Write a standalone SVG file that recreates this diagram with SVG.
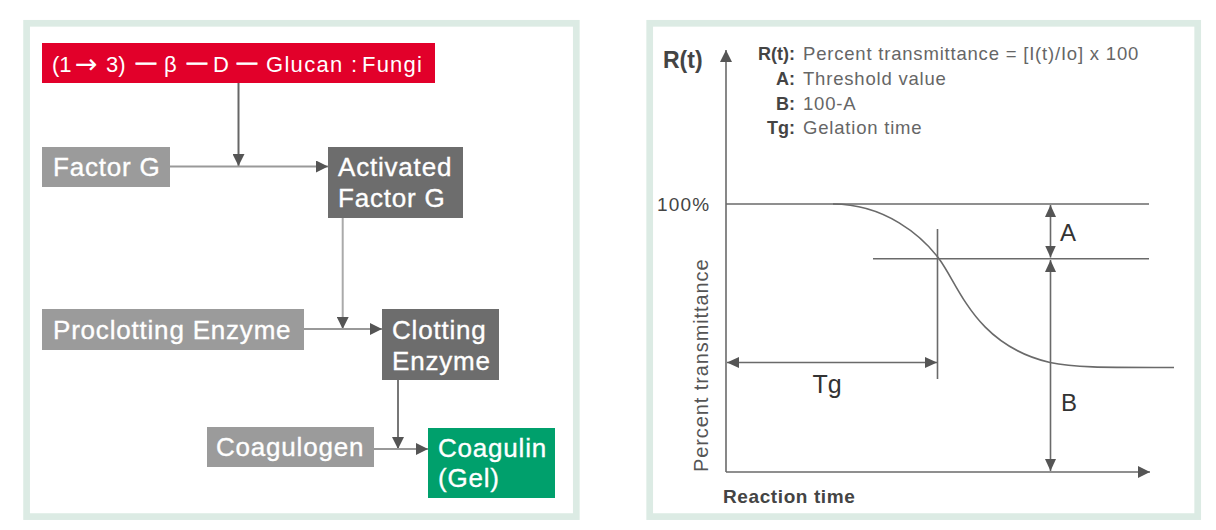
<svg xmlns="http://www.w3.org/2000/svg" width="1216" height="530" viewBox="0 0 1216 530">
<style>
  .panel{fill:#fff;stroke:#dcebe4;stroke-width:6.7}
  .lbl{font-family:"Liberation Sans",Arial,sans-serif;font-size:26px;letter-spacing:0.8px;fill:#fff;stroke:#fff;stroke-width:0.35px}
  .rt{font-family:"Liberation Sans",Arial,sans-serif;font-size:22px;fill:#fff}
  .arr{font-family:"DejaVu Sans",sans-serif;font-size:27px}
  .dash{font-size:20px;stroke:#fff;stroke-width:0.9px}
  .red{fill:#e2002a}
  .lg{fill:#9b9b9b}
  .dg{fill:#6d6d6d}
  .gr{fill:#00a06c}
  .conn{fill:none;stroke-width:2}
  .ch{fill:none;stroke:#6a6a6a;stroke-width:1.6}
  .t{font-family:"Liberation Sans",Arial,sans-serif;fill:#444}
  .lk{font-family:"Liberation Sans",Arial,sans-serif;font-size:18px;font-weight:bold;fill:#444;text-anchor:end}
  .lv{font-family:"Liberation Sans",Arial,sans-serif;font-size:18.5px;letter-spacing:0.8px;fill:#666}
</style>
<defs>
  <marker id="ah" viewBox="0 0 12 12" refX="12" refY="6" markerWidth="12" markerHeight="12" markerUnits="userSpaceOnUse" orient="auto-start-reverse"><path d="M0,0 L12,6 L0,12 z" fill="#555"/></marker>
  <marker id="ah2" viewBox="0 0 12 11" refX="12" refY="5.5" markerWidth="12" markerHeight="11" markerUnits="userSpaceOnUse" orient="auto-start-reverse"><path d="M0,0 L12,5.5 L0,11 z" fill="#555"/></marker>
</defs>
<rect width="1216" height="530" fill="#fff"/>
<rect class="panel" x="26.6" y="23.3" width="549.7" height="493.3"/>
<rect class="panel" x="649.7" y="23.3" width="548" height="493.3"/>

<g id="connectors">
  <path class="conn" stroke="#666" d="M238.5,83 V166" marker-end="url(#ah)"/>
  <path class="conn" stroke="#999" d="M170,166.5 H328" marker-end="url(#ah)"/>
  <path class="conn" stroke="#aaa" d="M342.7,218 V329" marker-end="url(#ah)"/>
  <path class="conn" stroke="#999" d="M304,329 H382" marker-end="url(#ah)"/>
  <path class="conn" stroke="#777" d="M398,380 V449" marker-end="url(#ah)"/>
  <path class="conn" stroke="#999" d="M374,449 H428" marker-end="url(#ah)"/>
</g>

<g id="glucan">
  <rect class="red" x="42" y="43" width="393" height="40"/>
  <text class="rt" y="72"><tspan x="52">(1</tspan><tspan class="arr" x="75" y="73">→</tspan><tspan x="106" y="72">3)</tspan><tspan class="dash" x="136" y="69">—</tspan><tspan x="164" y="72">β</tspan><tspan class="dash" x="187" y="69">—</tspan><tspan x="213" y="72">D</tspan><tspan class="dash" x="237" y="69">—</tspan><tspan x="266" y="72" style="letter-spacing:1.3px">Glucan</tspan><tspan x="351">:</tspan><tspan x="362" style="letter-spacing:1.2px">Fungi</tspan></text>
</g>
<g id="factorG">
  <rect class="lg" x="42" y="147" width="128" height="40"/>
  <text class="lbl" x="53" y="176">Factor G</text>
</g>
<g id="activatedFactorG">
  <rect class="dg" x="328" y="147" width="135" height="71"/>
  <text class="lbl" x="338" y="176">Activated</text>
  <text class="lbl" x="338" y="207">Factor G</text>
</g>
<g id="proclotting">
  <rect class="lg" x="42" y="309" width="262" height="41"/>
  <text class="lbl" x="53" y="338.5">Proclotting Enzyme</text>
</g>
<g id="clotting">
  <rect class="dg" x="382" y="309" width="117" height="71"/>
  <text class="lbl" x="392" y="339">Clotting</text>
  <text class="lbl" x="392" y="370">Enzyme</text>
</g>
<g id="coagulogen">
  <rect class="lg" x="207" y="427" width="167" height="40"/>
  <text class="lbl" x="216" y="456">Coagulogen</text>
</g>
<g id="coagulin">
  <rect class="gr" x="428" y="428" width="127" height="70"/>
  <text class="lbl" x="438" y="457">Coagulin</text>
  <text class="lbl" x="438" y="487">(Gel)</text>
</g>

<g id="chart">
  <path class="ch" d="M726,472 V50" marker-end="url(#ah)"/>
  <path class="ch" d="M726,472 H1150" marker-end="url(#ah)"/>
  <path class="ch" d="M726,204 H1149"/>
  <path class="ch" stroke="#7a7a7a" stroke-width="2" d="M873,258.7 H1149"/>
  <path class="ch" d="M937.5,229 V379"/>
  <path class="ch" d="M833,204 C885,204 922,236 939,258.7 C959.4,286 975,345 1050,362.5 C1075,368 1110,367.5 1174,367.5"/>
  <path class="ch" d="M727,362.5 H937" marker-start="url(#ah2)" marker-end="url(#ah2)"/>
  <path class="ch" d="M1050.5,205 V257.5" marker-start="url(#ah2)" marker-end="url(#ah2)"/>
  <path class="ch" d="M1050.5,260 V471" marker-start="url(#ah2)" marker-end="url(#ah2)"/>

  <text class="t" x="663" y="68" style="font-size:23px;font-weight:bold">R(t)</text>
  <text class="lk" x="795" y="60">R(t):</text>
  <text class="lv" x="803" y="60">Percent transmittance = [I(t)/Io] x 100</text>
  <text class="lk" x="795" y="85">A:</text>
  <text class="lv" x="803" y="85">Threshold value</text>
  <text class="lk" x="795" y="109.5">B:</text>
  <text class="lv" x="803" y="109.5">100-A</text>
  <text class="lk" x="795" y="134">Tg:</text>
  <text class="lv" x="803" y="134">Gelation time</text>

  <text class="t" x="657" y="210.5" style="font-size:19px;letter-spacing:1.2px">100%</text>
  <text class="t" x="1060" y="240.7" style="font-size:24px;fill:#333">A</text>
  <text class="t" x="1061" y="410.7" style="font-size:24px;fill:#333">B</text>
  <text class="t" x="812.5" y="392.5" style="font-size:25px;fill:#333">Tg</text>
  <text class="t" transform="translate(707.5,472) rotate(-90)" style="font-size:20px;letter-spacing:0.9px;fill:#555">Percent transmittance</text>
  <text class="t" x="723" y="502.7" style="font-size:19px;font-weight:bold;letter-spacing:0.6px">Reaction time</text>
</g>
</svg>
